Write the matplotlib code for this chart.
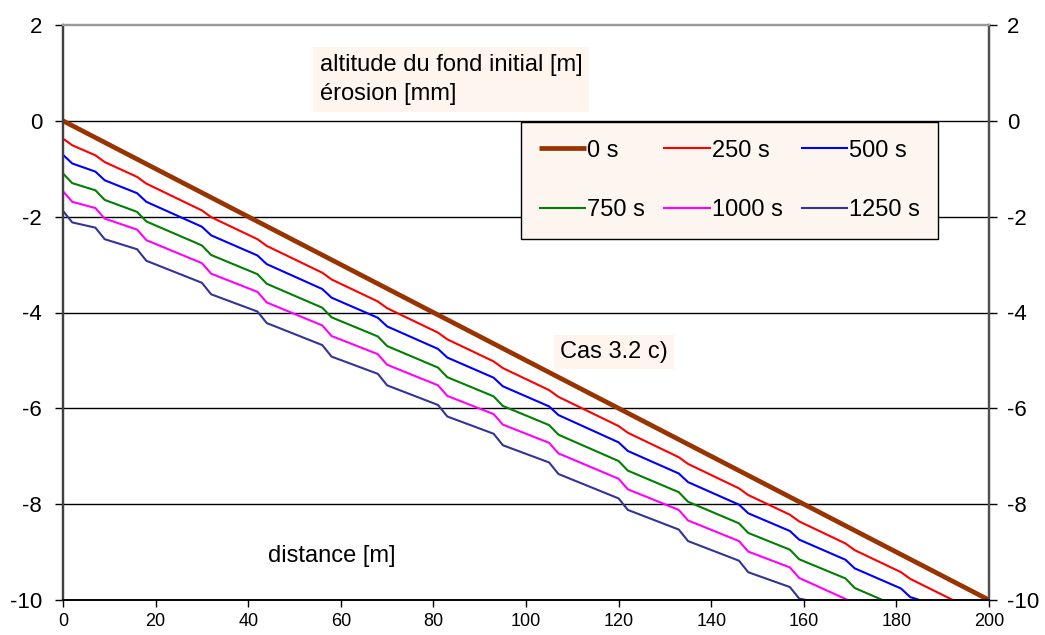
import matplotlib
matplotlib.use('Agg')
import matplotlib.pyplot as plt

plt.rcParams['font.family'] = ['Liberation Sans', 'DejaVu Sans']
plt.rcParams['axes.unicode_minus'] = False

# profils du fond (distance [m], altitude [m])
x_0s = [0, 200]
y_0s = [0, -10]

x_250s = [0, 2, 7, 9, 16, 18, 30, 32, 42, 44, 56, 58, 68, 70, 81, 83, 93, 95,
          105, 107, 120, 122, 133, 135, 146, 148, 157, 159, 169, 171, 181, 183, 192.2]
y_250s = [-0.37, -0.51, -0.72, -0.86, -1.17, -1.31, -1.87, -2.01, -2.47, -2.61,
          -3.17, -3.31, -3.77, -3.91, -4.42, -4.56, -5.02, -5.16, -5.62, -5.76,
          -6.37, -6.51, -7.02, -7.16, -7.67, -7.81, -8.22, -8.36, -8.82, -8.96,
          -9.42, -9.56, -10.0]

x_500s = [0, 2, 7, 9, 16, 18, 30, 32, 42, 44, 56, 58, 68, 70, 81, 83, 93, 95,
          105, 107, 120, 122, 133, 135, 146, 148, 157, 159, 169, 171, 181, 183, 185]
y_500s = [-0.71, -0.89, -1.06, -1.24, -1.51, -1.69, -2.21, -2.39, -2.81, -2.99,
          -3.51, -3.69, -4.11, -4.29, -4.76, -4.94, -5.36, -5.54, -5.96, -6.14,
          -6.71, -6.89, -7.36, -7.54, -8.01, -8.19, -8.56, -8.74, -9.16, -9.34,
          -9.76, -9.94, -10.0]

x_750s = [0, 2, 7, 9, 16, 18, 30, 32, 42, 44, 56, 58, 68, 70, 81, 83, 93, 95,
          105, 107, 120, 122, 133, 135, 146, 148, 157, 159, 169, 171, 177]
y_750s = [-1.10, -1.30, -1.45, -1.65, -1.90, -2.10, -2.60, -2.80, -3.20, -3.40,
          -3.90, -4.10, -4.50, -4.70, -5.15, -5.35, -5.75, -5.95, -6.35, -6.55,
          -7.10, -7.30, -7.75, -7.95, -8.40, -8.60, -8.95, -9.15, -9.55, -9.75,
          -10.0]

x_1000s = [0, 2, 7, 9, 16, 18, 30, 32, 42, 44, 56, 58, 68, 70, 81, 83, 93, 95,
           105, 107, 120, 122, 133, 135, 146, 148, 157, 159, 169.5]
y_1000s = [-1.47, -1.69, -1.82, -2.04, -2.27, -2.49, -2.97, -3.19, -3.57, -3.79,
           -4.27, -4.49, -4.87, -5.09, -5.52, -5.74, -6.12, -6.34, -6.72, -6.94,
           -7.47, -7.69, -8.12, -8.34, -8.77, -8.99, -9.32, -9.54, -10.0]

x_1250s = [0, 2, 7, 9, 16, 18, 30, 32, 42, 44, 56, 58, 68, 70, 81, 83, 93, 95,
           105, 107, 120, 122, 133, 135, 146, 148, 157, 159, 160.5]
y_1250s = [-1.88, -2.12, -2.23, -2.47, -2.68, -2.92, -3.38, -3.62, -3.98, -4.22,
           -4.68, -4.92, -5.28, -5.52, -5.93, -6.17, -6.53, -6.77, -7.13, -7.37,
           -7.88, -8.12, -8.53, -8.77, -9.18, -9.42, -9.73, -9.97, -10.0]

labels = ['0 s', '250 s', '500 s', '750 s', '1000 s', '1250 s']
colors = ['#993300', '#FF0000', '#0000FF', '#008000', '#FF00FF', '#333399']
xticks = list(range(0, 201, 20))
yticks = [-10, -8, -6, -4, -2, 0, 2]

fig = plt.figure(figsize=(10.45, 6.35), dpi=100)
ax = fig.add_axes([63 / 1045, 1 - 600 / 635, 926 / 1045, 575 / 635])

series = [(x_0s, y_0s), (x_250s, y_250s), (x_500s, y_500s),
          (x_750s, y_750s), (x_1000s, y_1000s), (x_1250s, y_1250s)]
handles = []
for i, (xs, ys) in enumerate(series):
    lw = 3.4 if i == 0 else 1.5
    h, = ax.plot(xs, ys, color=colors[i], lw=lw, label=labels[i], zorder=3,
                 solid_capstyle='butt', solid_joinstyle='round')
    handles.append(h)

ax.set_xlim(0, 200)
ax.set_ylim(-10, 2)
ax.set_xticks(xticks)
ax.set_yticks(yticks)
for yv in yticks[1:-1]:
    ax.axhline(yv, color='black', lw=1, zorder=1)

ax.tick_params(axis='y', direction='out', length=6, width=1,
               labelsize=16, pad=9)
ax.tick_params(axis='x', direction='out', length=5, width=1,
               labelsize=13, pad=4)

# textes sous les courbes
ax.text((320 - 63) / 926, (600 - 54) / 575,
        'altitude du fond initial [m]\nérosion [mm]', transform=ax.transAxes,
        fontsize=17, va='top', ha='left', linespacing=1.4, zorder=2.5,
        bbox=dict(facecolor='#FDF5EE', edgecolor='none', pad=5))
ax.text((560 - 63) / 926, (600 - 341) / 575, 'Cas 3.2 c)',
        transform=ax.transAxes, fontsize=17, va='top', ha='left', zorder=2.5,
        bbox=dict(facecolor='#FDF5EE', edgecolor='none', pad=4.5))
ax.text((268 - 63) / 926, (600 - 545) / 575, 'distance [m]',
        transform=ax.transAxes, fontsize=17, va='top', ha='left', zorder=2.5)

# axe de droite (mêmes graduations)
ax_r = ax.twinx()
ax_r.set_ylim(-10, 2)
ax_r.set_yticks(yticks)
ax_r.tick_params(axis='y', direction='out', length=6, width=1,
                 labelsize=16, pad=7)

for a in (ax, ax_r):
    a.spines['left'].set_color('#404040')
    a.spines['left'].set_linewidth(1.6)
    a.spines['right'].set_color('#505050')
    a.spines['right'].set_linewidth(1.6)
    a.spines['top'].set_color('#999999')
    a.spines['top'].set_linewidth(1.6)
    a.spines['bottom'].set_color('black')
    a.spines['bottom'].set_linewidth(1.2)

# ordre ligne par ligne comme dans la figure d'origine
order = [0, 3, 1, 4, 2, 5]
leg = ax_r.legend([handles[k] for k in order], [labels[k] for k in order],
                  loc='upper left', ncol=3, mode='expand',
                  bbox_to_anchor=((521 - 63) / 926, (600 - 122) / 575,
                                  (938 - 521) / 926, 0.0),
                  bbox_transform=ax.transAxes,
                  fontsize=17, frameon=True, fancybox=False, shadow=False,
                  handlelength=2.0, handletextpad=0.05, labelspacing=1.6,
                  borderpad=0.75, borderaxespad=0)
leg.get_frame().set_facecolor('#FDF6F0')
leg.get_frame().set_edgecolor('black')
leg.get_frame().set_linewidth(1)
leg.get_frame().set_alpha(1)

fig.savefig('out.png', dpi=100)
